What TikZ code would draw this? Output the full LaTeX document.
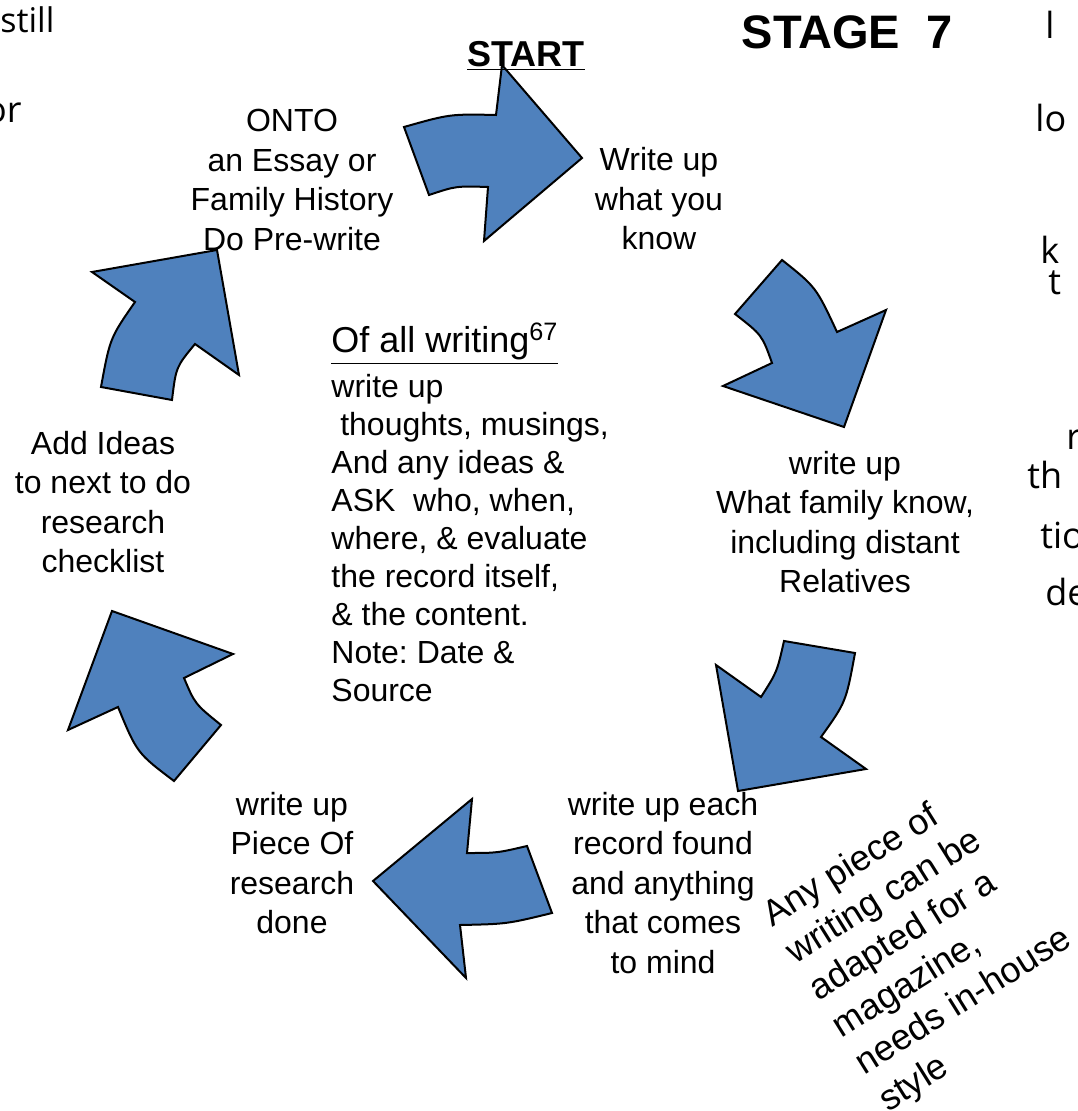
\documentclass[tikz,border=0pt]{standalone}
\usepackage{fontspec}
\setmainfont{Liberation Sans}
\newfontfamily\marginfont{Open Sans}
\usepackage{tikz}
\usetikzlibrary{positioning}
\definecolor{arrowblue}{HTML}{4F81BD}
\frenchspacing

\begin{document}
\begin{tikzpicture}[x=0.5pt,y=-0.5pt]
    \tikzstyle{tnode} = [inner sep=0pt, align=center, font=\fontsize{16}{19.75}\selectfont]
    \tikzstyle{mnode} = [inner sep=0pt, anchor=west, font=\marginfont\fontsize{18}{21}\selectfont]
    \tikzstyle{cyarrow} = [fill=arrowblue, draw=black, line width=1pt, line join=miter]

    \useasboundingbox (0,0) rectangle (1077,1111);
    \clip (0,0) rectangle (1077,1111);

    % the cycle of block arrows
    \draw[cyarrow] (404,127) .. controls (450,114) .. (496,115) -- (502,65) -- (582,158)
        -- (484,241) -- (488,187) .. controls (456,186) .. (429,195) -- cycle;
    \draw[cyarrow] (782,260) -- (735,314) .. controls (762,335) .. (772,363) -- (723,386)
        -- (844,427) -- (886,310) -- (837,332) .. controls (816,287) .. (782,260) -- cycle;
    \draw[cyarrow] (784,641) -- (855,653) .. controls (846,702) .. (821,737) -- (866,769)
        -- (738,791) -- (716,665) -- (761,697) .. controls (777,672) .. (784,641) -- cycle;
    \draw[cyarrow] (472,799) -- (467,853) .. controls (497,853) .. (527,846) -- (552,913)
        .. controls (507,924) .. (460,925) -- (466,978) -- (373,881) -- cycle;
    \draw[cyarrow] (112,611) -- (233,654) -- (184,678) .. controls (195,704) .. (221,725)
        -- (174,781) .. controls (137,753) .. (118,707) -- (68,730) -- cycle;
    \draw[cyarrow] (92,272) -- (217,250) -- (239,375) -- (195,344) .. controls (176,367) .. (172,400)
        -- (101,387) .. controls (110,338) .. (135,302) -- cycle;

    % titles
    \node[tnode, font=\bfseries\fontsize{23.5}{26}\selectfont] (stage) at (847,32) {STAGE\ \ 7};
    \node[tnode, font=\bfseries\fontsize{18}{21}\selectfont] (start) at (526,56) {\underline{START}};

    % steps round the cycle
    \node[tnode] (know) at (659,199) {Write up\\what you\\know};
    \node[tnode] (family) at (845,522) {write up\\What family know,\\including distant\\Relatives};
    \node[tnode] (record) at (663,883) {write up each\\record found\\and anything\\that comes\\to mind};
    \node[tnode] (piece) at (292,863) {write up\\Piece Of\\research\\done};
    \node[tnode] (ideas) at (103,502) {Add Ideas\\to next to do\\research\\checklist};
    \node[tnode] (onto) at (292,180) {ONTO\\an Essay or\\Family History\\Do Pre-write};

    % middle
    \node[tnode, anchor=base west, font=\fontsize{18}{21}\selectfont] (allhead) at (331,353)
        {\underline{Of all writing\textsuperscript{67}}};
    \node[tnode, anchor=west, align=left, font=\fontsize{16}{19}\selectfont] (allbody) at (331,538) {
      write up\\
      \ thoughts, musings,\\
      And any ideas \&\\
      ASK\ \ who, when,\\
      where, \& evaluate\\
      the record itself,\\
      \& the content.\\
      Note: Date \&\\
      Source
    };

    \node[tnode, rotate=32, anchor=west, align=left, font=\fontsize{18}{21.8}\selectfont] (adapt) at (825,1012) {
      Any piece of\\
      writing can be\\
      adapted for a\\
      magazine,\\
      needs in-house\\
      style
    };

    % cut-off words at the margins
    \node[mnode, font=\marginfont\fontsize{17}{20}\selectfont] (still) at (0,20) {still};
    \node[mnode, anchor=east] (or) at (22,113) {or};
    \node[mnode] (r1) at (1045,25) {l};
    \node[mnode] (r2) at (1035,118) {lo};
    \node[mnode] (r3) at (1040,250) {k};
    \node[mnode] (r4) at (1048,283) {t};
    \node[mnode] (r5) at (1066,440) {r};
    \node[mnode] (r6) at (1027,475) {th};
    \node[mnode] (r7) at (1040,535) {tio};
    \node[mnode] (r8) at (1045,592) {de};
\end{tikzpicture}
\end{document}
